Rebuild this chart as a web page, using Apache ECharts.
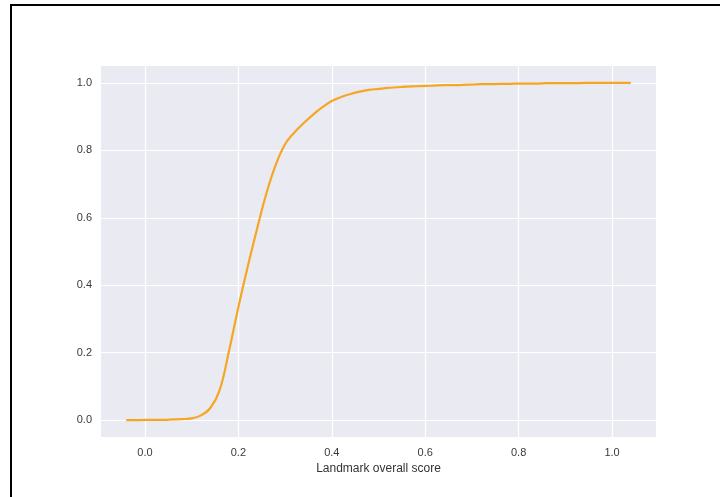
<!DOCTYPE html>
<html>
<head>
<meta charset="utf-8">
<script src="https://cdn.jsdelivr.net/npm/echarts@6/dist/echarts.min.js"></script>
<style>
  html, body { margin: 0; padding: 0; background: #ffffff; }
  #chart { width: 720px; height: 497px; }
</style>
</head>
<body>
<div id="chart"></div>
<script>
// Cumulative distribution of the landmark overall score, sampled every 0.02
const scores = [-0.04, -0.02, 0.00, 0.02, 0.04, 0.06, 0.08, 0.10, 0.12, 0.14, 0.16, 0.18, 0.20, 0.22, 0.24, 0.26,
  0.28, 0.30, 0.32, 0.34, 0.36, 0.38, 0.40, 0.42, 0.44, 0.46, 0.48, 0.50, 0.52, 0.54, 0.56, 0.58, 0.60, 0.62,
  0.64, 0.66, 0.68, 0.70, 0.72, 0.74, 0.76, 0.78, 0.80, 0.82, 0.84, 0.86, 0.88, 0.90, 0.92, 0.94, 0.96, 0.98,
  1.00, 1.02, 1.04];
const cdf = [0.000, 0.000, 0.0005, 0.001, 0.001, 0.002, 0.003, 0.005, 0.014, 0.036, 0.089, 0.205, 0.335, 0.455, 0.567, 0.672,
  0.757, 0.818, 0.853, 0.881, 0.906, 0.928, 0.946, 0.958, 0.967, 0.974, 0.979, 0.982, 0.985, 0.987, 0.989, 0.990, 0.991, 0.992,
  0.993, 0.993, 0.994, 0.995, 0.996, 0.996, 0.997, 0.997, 0.998, 0.998, 0.998, 0.999, 0.999, 0.999, 0.999, 1.000, 1.000, 1.000,
  1.000, 1.000, 1.000];
const xTicks = [0.0, 0.2, 0.4, 0.6, 0.8, 1.0];
const yTicks = [0.0, 0.2, 0.4, 0.6, 0.8, 1.0];
const xTitle = 'Landmark overall score';

const chart = echarts.init(document.getElementById('chart'), null, { renderer: 'canvas' });
const labelStyle = { color: '#3a3a3a', fontSize: 11, fontFamily: 'Liberation Sans, Arial, sans-serif' };

chart.setOption({
  animation: false,
  backgroundColor: '#ffffff',
  grid: { left: 101, right: 64, top: 66, bottom: 60, show: true, backgroundColor: '#eaeaf2', borderWidth: 0 },
  xAxis: {
    type: 'value', min: -0.094, max: 1.094,
    name: xTitle, nameLocation: 'middle', nameGap: 24,
    nameTextStyle: { color: '#333333', fontSize: 12, fontFamily: 'Liberation Sans, Arial, sans-serif' },
    axisLine: { show: false },
    axisTick: { show: false, customValues: xTicks },
    axisLabel: Object.assign({ customValues: xTicks, margin: 10, formatter: v => v.toFixed(1) }, labelStyle),
    splitLine: { show: true, lineStyle: { color: '#ffffff', width: 1.2 } }
  },
  yAxis: {
    type: 'value', min: -0.05, max: 1.05,
    axisLine: { show: false },
    axisTick: { show: false, customValues: yTicks },
    axisLabel: Object.assign({ customValues: yTicks, margin: 9, formatter: v => v.toFixed(1) }, labelStyle),
    splitLine: { show: true, lineStyle: { color: '#ffffff', width: 1.2 } }
  },
  series: [{
    type: 'line',
    data: scores.map((s, i) => [s, cdf[i]]),
    showSymbol: false,
    smooth: 0.4,
    lineStyle: { color: '#f6a623', width: 2.2 },
    itemStyle: { color: '#f6a623' }
  }],
  graphic: [
    { type: 'line', shape: { x1: 10, y1: 5, x2: 720, y2: 5 }, style: { stroke: '#000000', lineWidth: 2 } },
    { type: 'line', shape: { x1: 11, y1: 4, x2: 11, y2: 497 }, style: { stroke: '#000000', lineWidth: 2 } }
  ]
});
</script>
</body>
</html>
